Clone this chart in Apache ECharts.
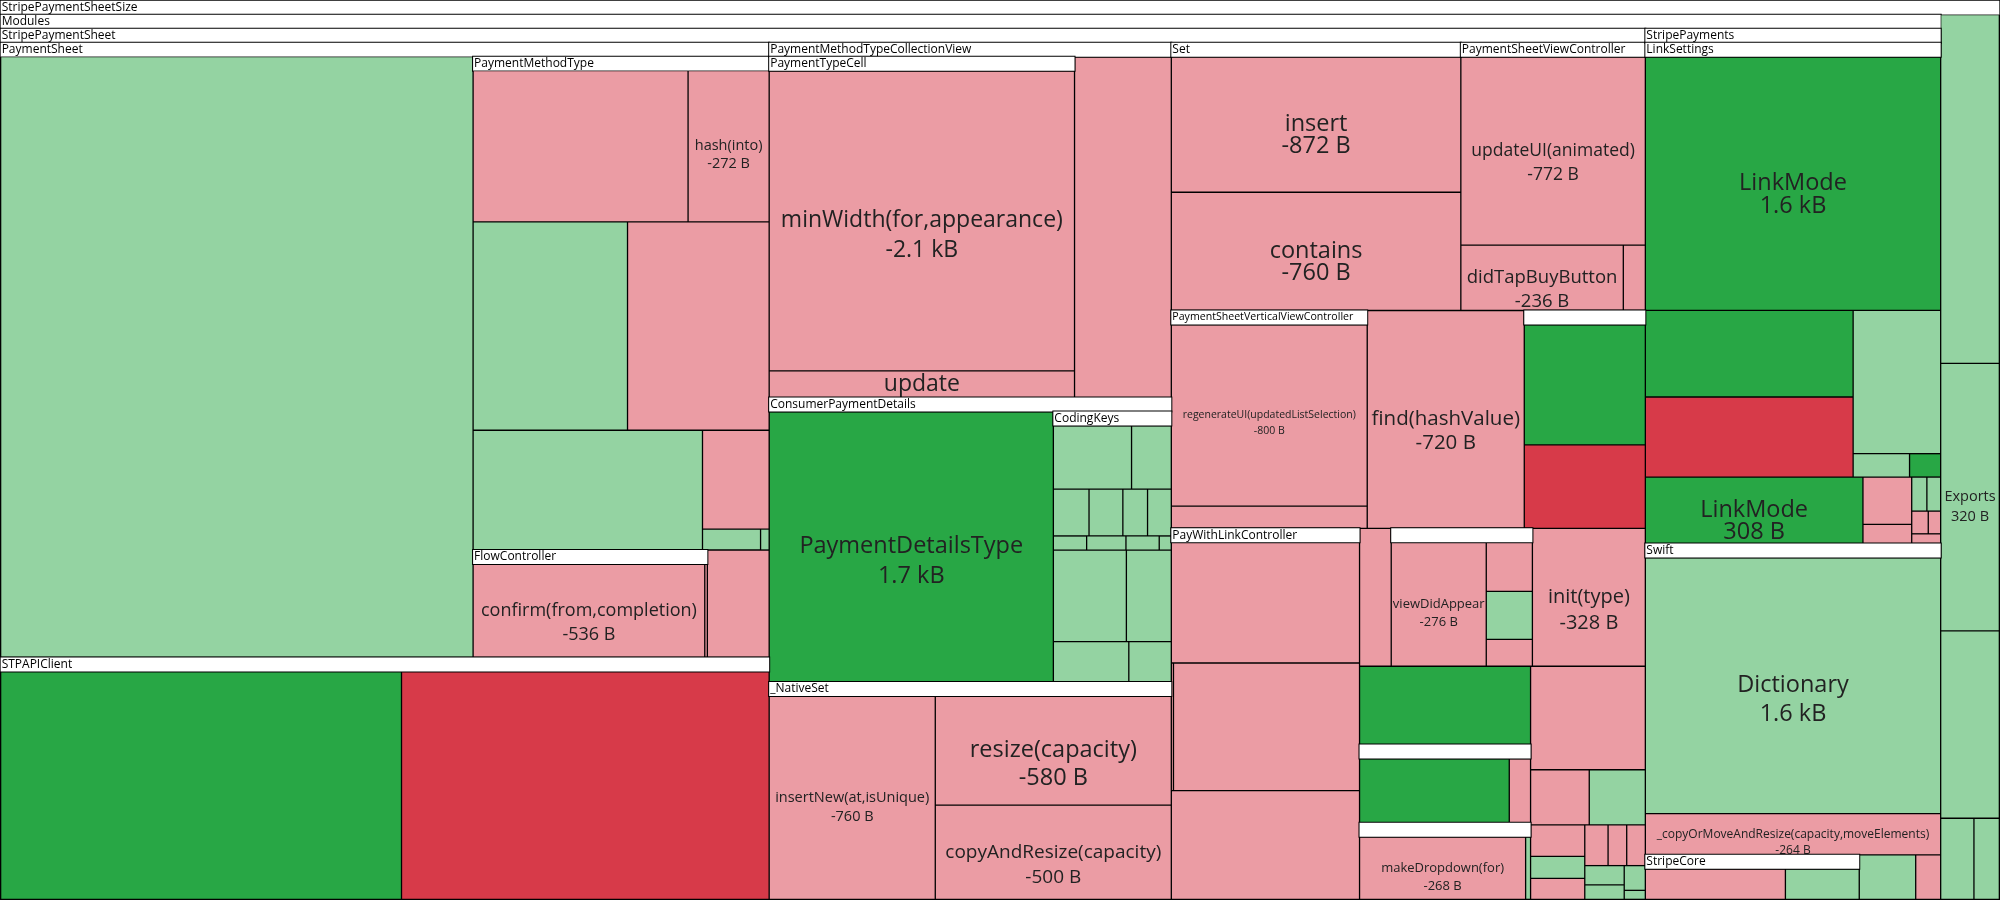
<!DOCTYPE html>
<html>
<head>
<meta charset="utf-8">
<script src="https://cdn.jsdelivr.net/npm/echarts@6.0.0/dist/echarts.min.js"></script>
<style>
html,body{margin:0;padding:0;background:#fff;}
#chart{width:2000px;height:900px;}
</style>
</head>
<body>
<div id="chart"></div>
<script>
// ---- data: [symbol name, size delta in bytes, status] ----
// status: N = new symbol, G = grew, S = shrank, R = removed
const rootLeaves = [['', 417, 'G'], ['Exports', 320, 'G'], ['', 224, 'G'], ['', 55, 'G'], ['', 42, 'G']];
const modulesLeaves = [['', 52, 'G'], ['', -23, 'S']];

const paymentSheetLeaves = [['', 6113, 'G'], ['', -143, 'S']];
const paymentMethodType = [['', -721, 'S'], ['hash(into)', -272, 'S'], ['', 713, 'G'], ['', -654, 'S'],
                           ['', 609, 'G'], ['', -146, 'S'], ['', 27, 'G'], ['', 4, 'G']];
const flowController = [['confirm(from,completion)', -536, 'S'], ['', -6, 'S']];
const stpApiClient = [['', 2041, 'N'], ['', -1872, 'R']];
const paymentTypeCell = [['minWidth(for,appearance)', -2095, 'S'], ['update', -186, 'S']];
const collectionViewLeaves = [['', -723, 'S']];
const consumerPaymentLeaves = [['PaymentDetailsType', 1701, 'N']];
const codingKeys = [['', 116, 'G'], ['', 59, 'G'], ['', 39, 'G'], ['', 37, 'G'], ['', 27, 'G'], ['', 26, 'G'],
                    ['', 11, 'G'], ['', 13, 'G'], ['', 11, 'G'], ['', 4, 'G'], ['', 156, 'G'], ['', 96, 'G'],
                    ['', 71, 'G'], ['', 40, 'G']];
const nativeSet = [['insertNew(at,isUnique)', -760, 'S'], ['resize(capacity)', -580, 'S'], ['copyAndResize(capacity)', -500, 'S']];
const setGroup = [['insert', -872, 'S'], ['contains', -760, 'S']];
const sheetViewController = [['updateUI(animated)', -772, 'S'], ['didTapBuyButton', -236, 'S'], ['', -32, 'S']];
const verticalViewController = [['regenerateUI(updatedListSelection)', -800, 'S'], ['', -98, 'S']];
const unnamedA = [['', 328, 'N'], ['', -227, 'R']];
const payWithLinkController = [['', -497, 'S'], ['', -6, 'S'], ['', -519, 'S'], ['', -448, 'S']];
const unnamedB = [['viewDidAppear', -276, 'S'], ['', -53, 'S'], ['', 52, 'G'], ['', -29, 'S']];
const unnamedC = [['', 246, 'N'], ['', -35, 'S']];
const unnamedD = [['makeDropdown(for)', -268, 'S'], ['', 8, 'G']];
const sheetLeavesA = [['find(hashValue)', -720, 'S']];
const sheetLeavesB = [['', -92, 'S']];
const sheetLeavesC = [['init(type)', -328, 'S'], ['', 282, 'N']];
const sheetLeavesD = [['', -250, 'S'], ['', -68, 'S'], ['', 65, 'G'], ['', -36, 'S'], ['', 25, 'G'],
                      ['', -24, 'S'], ['', -20, 'S'], ['', -16, 'S'], ['', -16, 'S'], ['', 16, 'G'], ['', 12, 'G'],
                      ['', 11, 'G'], ['', 4, 'G']];

const linkSettings = [['LinkMode', 1648, 'N'], ['', 396, 'N'], ['', -366, 'R'], ['', 276, 'G'], ['', 29, 'G'], ['', 16, 'N']];
const stripePaymentsLeaves = [['LinkMode', 308, 'N'], ['', -49, 'S'], ['', -20, 'S'], ['', 11, 'G'], ['', 10, 'G'],
                              ['', -8, 'S'], ['', -6, 'S'], ['', -6, 'S']];
const swiftLeaves = [['Dictionary', 1640, 'G'], ['_copyOrMoveAndResize(capacity,moveElements)', -264, 'S']];
const stripeCore = [['', -129, 'S'], ['', 68, 'G']];

// ---- styles ----
const COLORS = { N: '#28a745', G: '#94d3a2', S: '#eb9ca4', R: '#d73a49' };
const FONT = "'Open Sans', 'Noto Sans', 'DejaVu Sans', sans-serif";
// [fontSize, lineHeight, optional y offset]
const LABEL_STYLE = {
  'insert': [23.5, 21.5],
  'contains': [23.5, 21.5],
  'minWidth(for,appearance)': [23, 30],
  'update': [23, 20, 0],
  'PaymentDetailsType': [23.5, 30],
  'LinkMode': [23.5, 22.5],
  'Dictionary': [23.5, 29],
  'find(hashValue)': [20.5, 24],
  'resize(capacity)': [23.5, 28],
  'copyAndResize(capacity)': [19, 25],
  'insertNew(at,isUnique)': [14.5, 19],
  'updateUI(animated)': [17.5, 24],
  'didTapBuyButton': [18.5, 24],
  'hash(into)': [14.5, 18],
  'confirm(from,completion)': [18, 24],
  'regenerateUI(updatedListSelection)': [10.5, 16],
  'viewDidAppear': [13, 18.5],
  'init(type)': [20, 26],
  'makeDropdown(for)': [13, 18],
  '_copyOrMoveAndResize(capacity,moveElements)': [12, 16.5],
  'Exports': [14.5, 20]
};
const HEADER_FONT = { 'PaymentSheetVerticalViewController': 10.6 };

function leaf(t) {
  const name = t[0], delta = t[1], status = t[2];
  const item = { name: name, value: Math.abs(delta), delta: delta, itemStyle: { color: COLORS[status] } };
  const st = LABEL_STYLE[name];
  if (st) {
    item.label = { show: true, fontSize: st[0], lineHeight: st[1], offset: [0, st[2] != null ? st[2] : st[1] / 2] };
  } else {
    item.label = { show: false };
  }
  return item;
}
function leaves(arr) { return arr.map(leaf); }
function group(name, children) {
  const up = { show: true };
  if (HEADER_FONT[name]) up.fontSize = HEADER_FONT[name];
  return { name: name, children: children, upperLabel: up, itemStyle: { borderWidth: 0 } };
}

const paymentSheet = group('PaymentSheet', [
  leaf(paymentSheetLeaves[0]),
  group('PaymentMethodType', leaves(paymentMethodType)),
  group('FlowController', leaves(flowController)),
  leaf(paymentSheetLeaves[1])
]);
const stripePaymentSheet = group('StripePaymentSheet', [
  paymentSheet,
  group('STPAPIClient', leaves(stpApiClient)),
  group('PaymentMethodTypeCollectionView', [group('PaymentTypeCell', leaves(paymentTypeCell))].concat(leaves(collectionViewLeaves))),
  group('ConsumerPaymentDetails', leaves(consumerPaymentLeaves).concat([group('CodingKeys', leaves(codingKeys))])),
  group('_NativeSet', leaves(nativeSet)),
  group('Set', leaves(setGroup)),
  group('PaymentSheetViewController', leaves(sheetViewController)),
  group('PaymentSheetVerticalViewController', leaves(verticalViewController)),
  leaf(sheetLeavesA[0]),
  group('', leaves(unnamedA)),
  group('PayWithLinkController', leaves(payWithLinkController)),
  leaf(sheetLeavesB[0]),
  group('', leaves(unnamedB)),
  leaf(sheetLeavesC[0]),
  leaf(sheetLeavesC[1]),
  group('', leaves(unnamedC)),
  group('', leaves(unnamedD))
].concat(leaves(sheetLeavesD)));

const stripePayments = group('StripePayments', [group('LinkSettings', leaves(linkSettings))].concat(leaves(stripePaymentsLeaves)));
const modules = group('Modules', [
  stripePaymentSheet,
  stripePayments,
  group('Swift', leaves(swiftLeaves)),
  group('StripeCore', leaves(stripeCore))
].concat(leaves(modulesLeaves)));
const root = group('StripePaymentSheetSize', [modules].concat(leaves(rootLeaves)));

function fmtBytes(d) {
  const a = Math.abs(d);
  const sign = d < 0 ? '-' : '';
  if (a >= 1000) return sign + (a / 1000).toFixed(1) + ' kB';
  return sign + a + ' B';
}

const chart = echarts.init(document.getElementById('chart'), null, { renderer: 'canvas' });
chart.setOption({
  animation: false,
  backgroundColor: '#ffffff',
  tooltip: { show: false },
  series: [{
    type: 'treemap',
    left: 0, top: 0, width: 2000, height: 900,
    sort: false,
    roam: false,
    nodeClick: false,
    drillDownIcon: '',
    breadcrumb: { show: false },
    squareRatio: 0.5 * (1 + Math.sqrt(5)),
    itemStyle: { borderColor: '#000', borderWidth: 0.65, gapWidth: 0 },
    label: {
      show: true, position: 'inside', color: '#222', fontFamily: FONT, padding: 0,
      overflow: 'truncate',
      formatter: function (p) {
        if (!p.name || !p.data || p.data.delta == null) return '';
        return p.name + '\n' + fmtBytes(p.data.delta);
      }
    },
    upperLabel: {
      show: false, height: 14, color: '#000', fontSize: 12, lineHeight: 14, fontFamily: FONT,
      backgroundColor: '#fff', borderColor: '#000', borderWidth: 1, padding: [0, 0, 0, 1],
      formatter: function (p) { return p.name || ''; }
    },
    emphasis: { disabled: true },
    data: [root]
  }]
});
</script>
</body>
</html>
